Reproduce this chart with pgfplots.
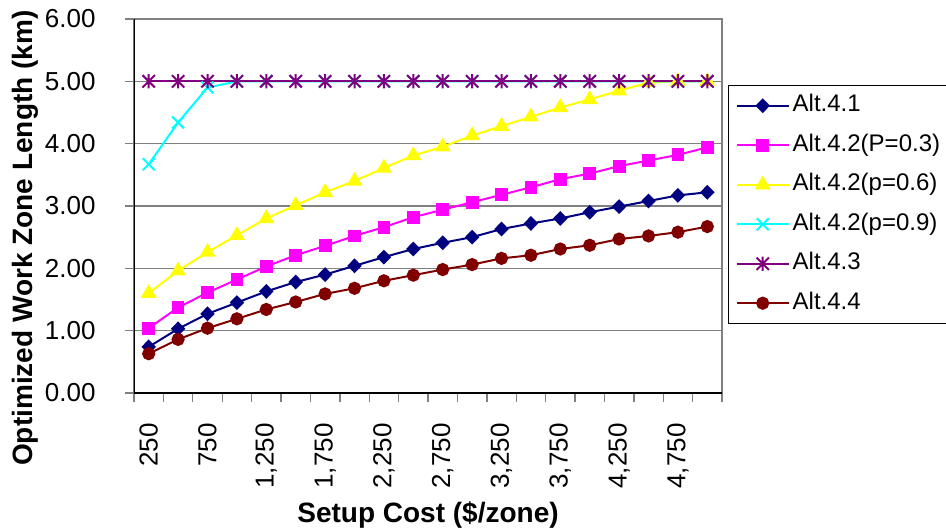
\documentclass[border=0pt]{standalone}
\usepackage{fontspec}
\setmainfont{Liberation Sans}
\usepackage{pgfplots}
\pgfplotsset{compat=1.18}
\definecolor{cnavy}{RGB}{0,0,128}
\definecolor{cmag}{RGB}{255,0,255}
\definecolor{cyel}{RGB}{255,255,0}
\definecolor{ccyan}{RGB}{0,255,255}
\definecolor{cpurp}{RGB}{128,0,128}
\definecolor{cdred}{RGB}{128,0,0}
\definecolor{cgrid}{RGB}{128,128,128}
\pgfdeclareplotmark{excelstar}{%
  \pgfpathmoveto{\pgfqpoint{-\pgfplotmarksize}{-\pgfplotmarksize}}%
  \pgfpathlineto{\pgfqpoint{\pgfplotmarksize}{\pgfplotmarksize}}%
  \pgfpathmoveto{\pgfqpoint{-\pgfplotmarksize}{\pgfplotmarksize}}%
  \pgfpathlineto{\pgfqpoint{\pgfplotmarksize}{-\pgfplotmarksize}}%
  \pgfpathmoveto{\pgfqpoint{0pt}{-1.15\pgfplotmarksize}}%
  \pgfpathlineto{\pgfqpoint{0pt}{1.15\pgfplotmarksize}}%
  \pgfusepathqstroke}
\begin{document}
\begin{tikzpicture}
\path[use as bounding box] (-67pt,-68pt) rectangle (406pt,196.5pt);
\begin{axis}[
  at={(0pt,0pt)}, anchor=south west,
  scale only axis, width=294pt, height=187pt,
  xmin=0.5, xmax=20.5, ymin=0, ymax=6,
  xtick={0.5,1.5,...,20.5},
  xticklabels={},
  extra x ticks={1,3,...,19},
  extra x tick labels={250,750,{1,250},{1,750},{2,250},{2,750},{3,250},{3,750},{4,250},{4,750}},
  extra x tick style={major tick length=0pt, tick style={draw=none}},
  ytick={0,1,...,6},
  tick pos=left, tick align=outside,
  major tick length=4.5pt,
  tick style={cgrid, line width=0.7pt},
  ymajorgrids, grid style={cgrid, line width=0.6pt},
  axis line style={cgrid, line width=0.9pt},
  /pgf/number format/assume math mode=true,
  yticklabel style={/pgf/number format/fixed, /pgf/number format/fixed zerofill, /pgf/number format/precision=2,
    font=\fontsize{13}{15}\selectfont, inner sep=0pt, anchor=east, xshift=-3.5pt},
  yticklabel shift=11pt,
  xticklabel style={rotate=90, anchor=east, inner sep=0pt, font=\fontsize{13}{15}\selectfont},
  xticklabel shift=15pt,
  xlabel={Setup Cost (\$/zone)},
  ylabel={Optimized Work Zone Length (km)},
  xlabel style={font=\bfseries\fontsize{14}{16}\selectfont, at={(axis description cs:0.5,0)}, anchor=north, inner sep=0pt, yshift=-54pt},
  ylabel style={font=\bfseries\fontsize{14}{16}\selectfont, at={(axis description cs:-0.1616,0.414)}, anchor=south, inner sep=0pt},
  legend style={at={(1.0102,0.8235)}, anchor=north west, draw=black, line width=0.7pt,
    font=\fontsize{12}{14}\selectfont, inner xsep=3.5pt, inner ysep=4pt, row sep=7.75pt,
    nodes={inner xsep=1.5pt, inner ysep=0pt, text height=9pt, text depth=3pt}},
  legend cell align=left,
  legend image code/.code={\draw[#1, mark repeat=2, mark phase=2] plot coordinates {(0pt,0pt) (13pt,0pt) (26pt,0pt)};},
]
\addplot[cnavy, line width=1pt, mark=diamond*, mark size=3pt, mark options={xscale=1.3, solid}] coordinates {
(1,0.74) (2,1.03) (3,1.27) (4,1.45) (5,1.63) (6,1.78) (7,1.90) (8,2.04) (9,2.18) (10,2.31)
(11,2.41) (12,2.50) (13,2.63) (14,2.72) (15,2.80) (16,2.90) (17,2.99) (18,3.08) (19,3.17) (20,3.22)};
\addlegendentry{Alt.4.1}
\addplot[cmag, line width=1pt, mark=square*, mark size=2.7pt, mark options={solid}] coordinates {
(1,1.04) (2,1.37) (3,1.61) (4,1.82) (5,2.03) (6,2.21) (7,2.36) (8,2.52) (9,2.66) (10,2.82)
(11,2.94) (12,3.06) (13,3.18) (14,3.30) (15,3.43) (16,3.52) (17,3.64) (18,3.73) (19,3.82) (20,3.94)};
\addlegendentry{Alt.4.2(P=0.3)}
\addplot[cyel, line width=1pt, mark=triangle*, mark size=3.6pt, mark options={solid}] coordinates {
(1,1.60) (2,1.96) (3,2.26) (4,2.53) (5,2.80) (6,3.01) (7,3.22) (8,3.40) (9,3.61) (10,3.81)
(11,3.95) (12,4.13) (13,4.28) (14,4.43) (15,4.58) (16,4.71) (17,4.85) (18,4.98) (19,5.00) (20,5.00)};
\addlegendentry{Alt.4.2(p=0.6)}
\addplot[ccyan, line width=1pt, mark=x, mark size=4.2pt, mark options={solid}] coordinates {
(1,3.67) (2,4.34) (3,4.90) (4,5.00) (5,5.00) (6,5.00) (7,5.00) (8,5.00) (9,5.00) (10,5.00)
(11,5.00) (12,5.00) (13,5.00) (14,5.00) (15,5.00) (16,5.00) (17,5.00) (18,5.00) (19,5.00) (20,5.00)};
\addlegendentry{Alt.4.2(p=0.9)}
\addplot[cpurp, line width=1pt, mark=excelstar, mark size=3.1pt, mark options={solid}] coordinates {
(1,5.00) (2,5.00) (3,5.00) (4,5.00) (5,5.00) (6,5.00) (7,5.00) (8,5.00) (9,5.00) (10,5.00)
(11,5.00) (12,5.00) (13,5.00) (14,5.00) (15,5.00) (16,5.00) (17,5.00) (18,5.00) (19,5.00) (20,5.00)};
\addlegendentry{Alt.4.3}
\addplot[cdred, line width=1pt, mark=*, mark size=2.8pt, mark options={solid}] coordinates {
(1,0.63) (2,0.86) (3,1.04) (4,1.19) (5,1.34) (6,1.46) (7,1.59) (8,1.68) (9,1.80) (10,1.89)
(11,1.98) (12,2.06) (13,2.16) (14,2.21) (15,2.31) (16,2.37) (17,2.47) (18,2.52) (19,2.58) (20,2.67)};
\addlegendentry{Alt.4.4}
\draw[black, line width=1.1pt] (rel axis cs:0,1) -- (rel axis cs:0,0) -- (rel axis cs:1,0);
\end{axis}
\end{tikzpicture}
\end{document}
